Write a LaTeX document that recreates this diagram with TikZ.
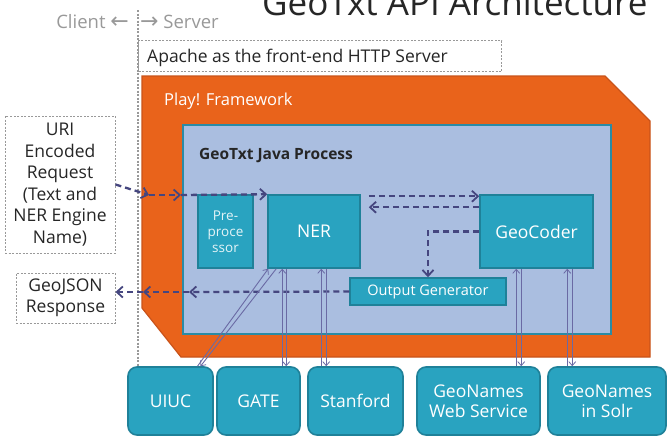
\documentclass[tikz,border=0pt]{standalone}
\usepackage{fontspec}
\setmainfont{Open Sans}
\newfontfamily\arrowfont{DejaVu Sans}
\usetikzlibrary{arrows.meta,calc}
\definecolor{orangeP}{HTML}{E9631B}
\definecolor{orangeB}{HTML}{C9531A}
\definecolor{blueF}{HTML}{AABEE0}
\definecolor{blueB}{HTML}{2A8BA5}
\definecolor{tealF}{HTML}{29A3C0}
\definecolor{tealB}{HTML}{1F8199}
\definecolor{purp}{HTML}{45467F}
\definecolor{thinc}{HTML}{6A6AA4}
\definecolor{grayt}{HTML}{999999}
\tikzset{
  tealbox/.style={draw=tealB, fill=tealF, line width=1.5pt, text=white, inner sep=0pt, align=center, font=\fontsize{17.5}{20}\selectfont},
  extbox/.style={tealbox, rounded corners=9pt, line width=1.6pt},
  dashbox/.style={draw=grayt, dashed, line width=1pt, dash pattern=on 2pt off 1.5pt, inner sep=0pt, align=center},
  dasharr/.style={draw=purp, line width=2.3pt, dash pattern=on 6pt off 4pt, -{Straight Barb[length=6pt,width=11pt,line width=1.8pt]}},
  thinarr/.style={draw=thinc, line width=0.9pt, -{Straight Barb[length=4pt,width=7pt,line width=0.8pt]}}
}
\begin{document}
\begin{tikzpicture}[x=1pt,y=-1pt]
\useasboundingbox (0,0) rectangle (670,437);
\fill[white] (0,0) rectangle (670,437);
% title
\node[anchor=base west, inner sep=0pt, font=\fontsize{35}{40}\selectfont, text=black!85] (title) at (262,15) {GeoTxt API Architecture};
% client/server
\node[anchor=base east, inner sep=0pt, text=grayt, font=\fontsize{18.5}{20}\selectfont] (client) at (129,28) {Client {\arrowfont\fontsize{22}{22}\selectfont ←}};
\node[anchor=base west, inner sep=0pt, text=grayt, font=\fontsize{18.5}{20}\selectfont] (server) at (140,28) {{\arrowfont\fontsize{22}{22}\selectfont →} Server};
\coordinate (vtop) at (138,10);
\coordinate (vbot) at (138,437);
\draw[grayt, line width=1.8pt, dash pattern=on 2pt off 1.5pt] (vtop) -- (vbot);
% apache
\node[dashbox, minimum width=363pt, minimum height=31pt, anchor=north west] (apache) at (138,40) {};
\node[anchor=base west, inner sep=0pt, font=\fontsize{17.5}{20}\selectfont, text=black!85] (apachet) at (147,62) {Apache as the front-end HTTP Server};
% play framework
\draw[fill=orangeP, draw=orangeB, line width=1.2pt] (142,76) -- (605,76) -- (650,121) -- (650,357) -- (181,357) -- (142,308) -- cycle;
\node[anchor=base west, inner sep=0pt, text=white, font=\fontsize{16.5}{20}\selectfont] (play) at (164,105) {Play! Framework};
% java process
\node[draw=blueB, fill=blueF, line width=2pt, minimum width=428pt, minimum height=209pt, anchor=north west, inner sep=0pt] (java) at (182,124) {};
\node[anchor=base west, inner sep=0pt, font=\bfseries\fontsize{15.5}{18}\selectfont, text=black!85] (javat) at (199,159) {GeoTxt Java Process};
% inner boxes
\node[tealbox, minimum width=55pt, minimum height=73pt, text=white!88!tealF, font=\fontsize{13.5}{16}\selectfont] (pre) at (225.5,231.5) {Pre-\\proce\\ssor};
\node[tealbox, minimum width=92pt, minimum height=73pt] (ner) at (314,231.5) {NER};
\node[tealbox, minimum width=113pt, minimum height=73pt] (geo) at (536.5,231.5) {GeoCoder};
\node[tealbox, minimum width=156pt, minimum height=27pt, font=\fontsize{14.5}{16}\selectfont] (out) at (428,291.5) {Output Generator};
% external boxes
\node[dashbox, minimum width=110pt, minimum height=137pt, font=\fontsize{17.5}{21.5}\selectfont, text=black!85] (uri) at (60,184.5) {URI\\Encoded\\Request\\(Text and\\NER Engine\\Name)};
\node[dashbox, minimum width=99pt, minimum height=50pt, font=\fontsize{17.5}{21.5}\selectfont, text=black!85] (json) at (65.5,298) {GeoJSON\\Response};
\node[extbox, minimum width=85pt, minimum height=68pt] (uiuc) at (170.5,401) {UIUC};
\node[extbox, minimum width=83pt, minimum height=68pt] (gate) at (258.5,401) {GATE};
\node[extbox, minimum width=95pt, minimum height=68pt] (stan) at (355.5,401) {Stanford};
\node[extbox, minimum width=123pt, minimum height=68pt, font=\fontsize{17.5}{20}\selectfont] (gnws) at (478.5,401) {GeoNames\\Web Service};
\node[extbox, minimum width=118pt, minimum height=68pt, font=\fontsize{17.5}{20}\selectfont] (solr) at (607,401) {GeoNames\\in Solr};
% dashed flow
\coordinate (in1) at (149,195);
\coordinate (in2) at (181,195);
\draw[dasharr] (uri.east) -- (in1);
\draw[dasharr] (in1) -- (in2);
\draw[dasharr] (in2) -- (ner.north west);
\draw[dasharr] ([xshift=8pt,yshift=-2pt]ner.north east) -- ([yshift=-2pt]geo.north west);
\draw[dasharr] ([yshift=-13pt]geo.north west) -- ([xshift=8pt,yshift=-13pt]ner.north east);
\draw[dasharr] (geo.west) -| (out.north);
\coordinate (o1) at (189,292);
\coordinate (o2) at (143,292);
\draw[dasharr] (out.west) -- (o1);
\draw[dasharr] (o1) -- (o2);
\draw[dasharr] (o2) -- (o2 -| json.east);
% thin service links
\draw[thinarr] ([xshift=27pt]uiuc.north) -- ([xshift=1pt]ner.south west);
\draw[thinarr] ([xshift=9pt]ner.south west) -- ([xshift=30pt]uiuc.north);
\draw[thinarr] ([xshift=15pt]ner.south west |- gate.north) -- ([xshift=15pt]ner.south west);
\draw[thinarr] ([xshift=19pt]ner.south west) -- ([xshift=19pt]ner.south west |- gate.north);
\draw[thinarr] ([xshift=54pt]ner.south west |- stan.north) -- ([xshift=54pt]ner.south west);
\draw[thinarr] ([xshift=59pt]ner.south west) -- ([xshift=59pt]ner.south west |- stan.north);
\draw[thinarr] ([xshift=37pt]geo.south west |- gnws.north) -- ([xshift=37pt]geo.south west);
\draw[thinarr] ([xshift=42pt]geo.south west) -- ([xshift=42pt]geo.south west |- gnws.north);
\draw[thinarr] ([xshift=88pt]geo.south west |- solr.north) -- ([xshift=88pt]geo.south west);
\draw[thinarr] ([xshift=93pt]geo.south west) -- ([xshift=93pt]geo.south west |- solr.north);
\end{tikzpicture}
\end{document}
